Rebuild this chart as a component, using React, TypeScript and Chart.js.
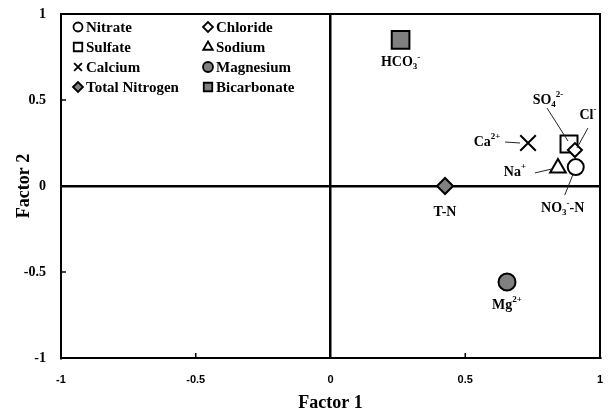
import React, { useEffect, useRef } from 'react';
import { Chart, registerables } from 'chart.js';
import { drawPoint } from 'chart.js/helpers';

Chart.register(...registerables);

// ---- data ----
const seriesNames = ['Nitrate', 'Chloride', 'Sulfate', 'Sodium', 'Calcium', 'Magnesium', 'Total Nitrogen', 'Bicarbonate'];
const factor1Values = [0.91, 0.907, 0.885, 0.844, 0.733, 0.655, 0.425, 0.26];
const factor2Values = [0.11, 0.209, 0.244, 0.105, 0.25, -0.558, 0.0, 0.85];
const axisTicks = [-1, -0.5, 0, 0.5, 1];

type Seg = { t: string; k?: 'sub' | 'sup' };
const pointLabels: Seg[][] = [
  [{ t: 'NO' }, { t: '3', k: 'sub' }, { t: '-', k: 'sup' }, { t: '-N' }],
  [{ t: 'Cl' }, { t: '-', k: 'sup' }],
  [{ t: 'SO' }, { t: '4', k: 'sub' }, { t: '2-', k: 'sup' }],
  [{ t: 'Na' }, { t: '+', k: 'sup' }],
  [{ t: 'Ca' }, { t: '2+', k: 'sup' }],
  [{ t: 'Mg' }, { t: '2+', k: 'sup' }],
  [{ t: 'T-N' }],
  [{ t: 'HCO' }, { t: '3', k: 'sub' }, { t: '-', k: 'sup' }],
];

// ---- styles / annotation layout ----
const pointStyles = ['circle', 'rectRot', 'rect', 'triangle', 'crossRot', 'circle', 'rectRot', 'rect'];
const fillColors = ['#ffffff', '#ffffff', '#ffffff', '#ffffff', '#000000', '#808080', '#808080', '#808080'];
const radii = [8, 7, 12, 9, 11, 8.5, 8, 12.5];
const legendRadii = [4.5, 5, 6, 5.5, 5.5, 5, 5, 6];
const labelOffsets: number[][] = [[-13, 41], [13, -35], [-21, -44], [-43, 4], [-41, -1], [0, 23], [0, 26], [0, 23]];
const leaderLines: (number[][] | null)[] = [
  [[-11, 28], [-3, 8]],
  [[13, -22], [2, -2]],
  [[-22, -36], [-1, -3]],
  [[-23, 5], [-6, 1]],
  [[-23, -1], [-8, 0]],
  null,
  null,
  null,
];

const SERIF = "'Liberation Serif', 'Times New Roman', serif";

function drawRich(ctx: CanvasRenderingContext2D, segs: Seg[], cx: number, cy: number, size: number) {
  const small = Math.round(size * 0.65);
  const fontFor = (s: Seg) => `bold ${s.k ? small : size}px ${SERIF}`;
  let total = 0;
  const widths = segs.map((s) => {
    ctx.font = fontFor(s);
    const w = ctx.measureText(s.t).width;
    total += w;
    return w;
  });
  let x = cx - total / 2;
  ctx.textAlign = 'left';
  ctx.textBaseline = 'middle';
  segs.forEach((s, i) => {
    ctx.font = fontFor(s);
    const dy = s.k === 'sub' ? size * 0.3 : s.k === 'sup' ? -size * 0.35 : 0;
    ctx.fillText(s.t, x, cy + dy);
    x += widths[i];
  });
}

const decorPlugin = {
  id: 'decor',
  beforeDatasetsDraw(chart: any) {
    const { ctx, chartArea: a, scales } = chart;
    ctx.save();
    ctx.strokeStyle = '#000';
    ctx.lineWidth = 2;
    ctx.strokeRect(a.left, a.top, a.right - a.left, a.bottom - a.top);
    ctx.lineWidth = 1.5;
    axisTicks.forEach((v) => {
      if (v === 0 || Math.abs(v) === 1) return;
      const px = scales.x.getPixelForValue(v);
      ctx.beginPath();
      ctx.moveTo(px, a.bottom);
      ctx.lineTo(px, a.bottom - 5);
      ctx.stroke();
      const py = scales.y.getPixelForValue(v);
      ctx.beginPath();
      ctx.moveTo(a.left, py);
      ctx.lineTo(a.left + 5, py);
      ctx.stroke();
    });
    ctx.restore();
  },
  afterDatasetsDraw(chart: any) {
    const { ctx, chartArea: a } = chart;
    ctx.save();
    chart.data.datasets.forEach((ds: any, i: number) => {
      const el = chart.getDatasetMeta(i).data[0];
      if (!el) return;
      const px = el.x;
      const py = el.y;
      const ll = leaderLines[i];
      if (ll) {
        ctx.strokeStyle = '#222';
        ctx.lineWidth = 1;
        ctx.beginPath();
        ctx.moveTo(px + ll[0][0], py + ll[0][1]);
        ctx.lineTo(px + ll[1][0], py + ll[1][1]);
        ctx.stroke();
      }
      ctx.fillStyle = '#000';
      drawRich(ctx, pointLabels[i], px + labelOffsets[i][0], py + labelOffsets[i][1], 14);
    });
    chart.data.datasets.forEach((ds: any, i: number) => {
      const col = i % 2;
      const row = Math.floor(i / 2);
      const mx = a.left + 17 + col * 130;
      const my = a.top + 13 + row * 20;
      ctx.fillStyle = ds.pointBackgroundColor;
      ctx.strokeStyle = '#000';
      ctx.lineWidth = 1.8;
      drawPoint(ctx, { pointStyle: ds.pointStyle, rotation: 0, radius: legendRadii[i], borderWidth: 1.8 }, mx, my);
      ctx.fillStyle = '#000';
      ctx.font = `bold 15px ${SERIF}`;
      ctx.textAlign = 'left';
      ctx.textBaseline = 'middle';
      ctx.fillText(ds.label, mx + 8, my + 1);
    });
    ctx.restore();
  },
};

const fmt = (v: any) => String(Number(v));

export default function App() {
  const ref = useRef<HTMLCanvasElement | null>(null);
  useEffect(() => {
    document.body.style.margin = '0';
    if (!ref.current) return;
    const datasets = seriesNames.map((name, i) => ({
      label: name,
      data: [{ x: factor1Values[i], y: factor2Values[i] }],
      pointStyle: pointStyles[i],
      pointRadius: radii[i],
      pointHoverRadius: radii[i],
      pointBackgroundColor: fillColors[i],
      pointBorderColor: '#000',
      pointBorderWidth: 2,
      showLine: false,
    }));
    const zeroGrid = {
      color: (c: any) => (c.tick && c.tick.value === 0 ? '#000' : 'rgba(0,0,0,0)'),
      lineWidth: 2.5,
      drawTicks: false,
    };
    const chart = new Chart(ref.current, {
      type: 'scatter',
      data: { datasets },
      plugins: [decorPlugin],
      options: {
        animation: false,
        responsive: false,
        devicePixelRatio: 1,
        layout: { autoPadding: false, padding: { top: 14, right: 10, left: 0, bottom: 0 } },
        plugins: { legend: { display: false }, tooltip: { enabled: false } },
        scales: {
          x: {
            type: 'linear',
            min: -1,
            max: 1,
            afterFit: (s: any) => { s.height = 58; s.paddingLeft = 0; s.paddingRight = 0; },
            ticks: {
              stepSize: 0.5,
              padding: 2,
              color: '#000',
              callback: fmt,
              font: { family: "'Liberation Sans', Arial, sans-serif", size: 11, weight: 'bold', lineHeight: '40px' },
            },
            grid: zeroGrid,
            border: { display: true, color: '#000', width: 2 },
            title: {
              display: true,
              text: 'Factor 1',
              color: '#000',
              padding: { top: 0, bottom: 2 },
              font: { family: SERIF, size: 18, weight: 'bold' },
            },
          },
          y: {
            type: 'linear',
            min: -1,
            max: 1,
            afterFit: (s: any) => { s.width = 61; s.paddingTop = 0; s.paddingBottom = 0; },
            ticks: {
              stepSize: 0.5,
              padding: 15,
              color: '#000',
              callback: fmt,
              font: { family: SERIF, size: 14, weight: 'bold' },
            },
            grid: zeroGrid,
            border: { display: true, color: '#000', width: 2 },
            title: {
              display: true,
              text: 'Factor 2',
              color: '#000',
              padding: { top: 14, bottom: 0 },
              font: { family: SERIF, size: 18, weight: 'bold' },
            },
          },
        },
      } as any,
    });
    return () => chart.destroy();
  }, []);
  return (
    <div style={{ width: 610, height: 416 }}>
      <canvas ref={ref} width={610} height={416} />
    </div>
  );
}
